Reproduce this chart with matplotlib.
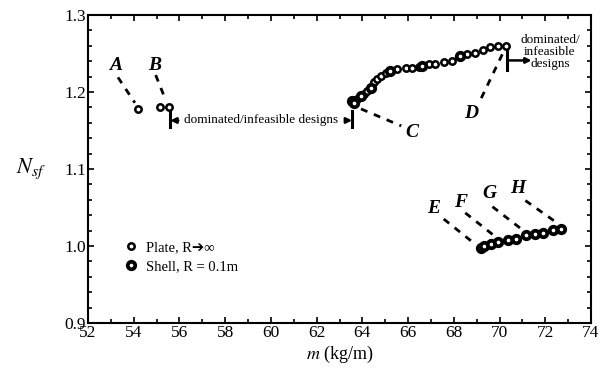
import matplotlib
matplotlib.use("Agg")
import matplotlib.pyplot as plt
from matplotlib.ticker import MultipleLocator

plt.rcParams['font.family'] = ['Liberation Serif', 'DejaVu Sans']
plt.rcParams['mathtext.fontset'] = 'stix'

# Plate designs (R -> infinity)
plate_m = [54.18, 55.17, 55.54, 63.68, 63.78, 64.07, 64.21, 64.51, 64.65, 64.80,
           65.02, 65.52, 65.89, 66.17, 66.47, 66.90, 67.19, 67.56, 67.92,
           68.57, 68.94, 69.26, 69.59, 69.95, 70.27]
plate_n = [1.178, 1.180, 1.181, 1.190, 1.191, 1.197, 1.2015, 1.2126, 1.217, 1.2204,
           1.2249, 1.2299, 1.2308, 1.2316, 1.2329, 1.2359, 1.2368, 1.2387, 1.2403,
           1.2491, 1.2507, 1.2545, 1.2589, 1.2602, 1.2602]

# Shell designs (R = 0.1 m)
shell_m = [63.56, 63.62, 63.93, 64.37, 65.20, 66.60, 68.28,
           69.20, 69.30, 69.63, 69.95, 70.39, 70.74, 71.17, 71.55, 71.91, 72.35, 72.68]
shell_n = [1.1877, 1.186, 1.1948, 1.205, 1.2276, 1.2335, 1.2468,
           0.998, 1.000, 1.003, 1.005, 1.008, 1.009, 1.014, 1.016, 1.017, 1.021, 1.022]

# design labels: name, label position, dashed leader (start, end)
labels = ['A', 'B', 'C', 'D', 'E', 'F', 'G', 'H']
label_x = [53.22, 54.92, 66.16, 68.78, 67.12, 68.30, 69.56, 70.78]
label_y = [1.235, 1.235, 1.148, 1.172, 1.049, 1.057, 1.068, 1.075]
lead_x0 = [53.31, 54.96, 63.94, 69.20, 67.56, 68.50, 69.69, 71.13]
lead_y0 = [1.219, 1.222, 1.178, 1.192, 1.035, 1.043, 1.051, 1.059]
lead_x1 = [54.05, 55.31, 65.70, 70.17, 68.78, 69.78, 71.00, 72.42]
lead_y1 = [1.186, 1.196, 1.156, 1.252, 1.006, 1.013, 1.021, 1.032]

fig = plt.figure(figsize=(6.12, 3.75), dpi=100)
ax = fig.add_axes([0.1438, 0.1387, 0.8219, 0.8213])

ax.plot(plate_m, plate_n, linestyle='none', marker='o', markersize=4.6,
        markerfacecolor='white', markeredgecolor='black', markeredgewidth=1.8,
        label='Plate, R\u2794\u221e', zorder=3)
ax.plot(shell_m, shell_n, linestyle='none', marker='o', markersize=5.4,
        markerfacecolor='white', markeredgecolor='black', markeredgewidth=2.7,
        label='Shell, R = 0.1m', zorder=3)

for lab, lx, ly, x0, y0, x1, y1 in zip(labels, label_x, label_y,
                                        lead_x0, lead_y0, lead_x1, lead_y1):
    ax.plot([x0, x1], [y0, y1], color='black', linestyle=(0, (2.5, 2.5)), linewidth=2)
    ax.text(lx, ly, lab, fontsize=14, fontweight='bold', fontstyle='italic',
            ha='center', va='center')

# dominated / infeasible bracket (left)
ax.plot([55.6, 55.6], [1.155, 1.175], color='black', linewidth=2.2)
ax.plot([63.55, 63.55], [1.155, 1.175], color='black', linewidth=2.2)
ax.text(59.55, 1.163, 'dominated/infeasible designs', fontsize=9.5,
        ha='center', va='center')
ax.annotate('', xy=(55.6, 1.163), xytext=(55.95, 1.163),
            arrowprops=dict(arrowstyle='-|>', color='black', lw=1.8,
                            mutation_scale=8, shrinkA=0, shrinkB=0))
ax.annotate('', xy=(63.55, 1.163), xytext=(63.25, 1.163),
            arrowprops=dict(arrowstyle='-|>', color='black', lw=1.8,
                            mutation_scale=8, shrinkA=0, shrinkB=0))

# dominated / infeasible bracket (right)
ax.plot([70.34, 70.34], [1.228, 1.258], color='black', linewidth=2.2)
ax.annotate('', xy=(71.4, 1.241), xytext=(70.34, 1.241),
            arrowprops=dict(arrowstyle='-|>', color='black', lw=1.8,
                            mutation_scale=8, shrinkA=0, shrinkB=0))
ax.text(72.2, 1.252, 'dominated/\ninfeasible\ndesigns', fontsize=9.5,
        ha='center', va='center', linespacing=0.95)

ax.set_xlim(52, 74)
ax.set_ylim(0.9, 1.3)
ax.xaxis.set_major_locator(MultipleLocator(2))
ax.xaxis.set_minor_locator(MultipleLocator(1))
ax.yaxis.set_major_locator(MultipleLocator(0.1))
ax.yaxis.set_minor_locator(MultipleLocator(0.02))
ax.tick_params(which='both', direction='in', top=True, right=True,
               labelsize=12.5, width=1.2, pad=1.5)
ax.tick_params(which='major', length=4)
ax.tick_params(which='minor', length=3)
for s in ax.spines.values():
    s.set_linewidth(1.5)

ax.set_xlabel('$m$ (kg/m)', fontsize=13, labelpad=2)
ax.set_ylabel('$N_{sf}$', fontsize=16, rotation=0, labelpad=24, va='center')

leg = ax.legend(loc='lower left', bbox_to_anchor=(0.045, 0.12), frameon=False,
                fontsize=10.5, handletextpad=0.5, labelspacing=0.35,
                handlelength=1.0)

fig.savefig('out.png', dpi=100)
